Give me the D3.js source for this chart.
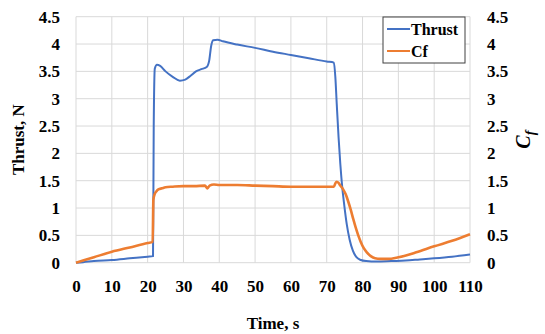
<!DOCTYPE html>
<html>
<head>
<meta charset="utf-8">
<script src="https://cdn.jsdelivr.net/npm/d3@7"></script>
<style>
  body { margin: 0; background: #fff; }
  text { font-family: "Liberation Serif", "Times New Roman", serif; font-weight: bold; fill: #000; }
</style>
</head>
<body>
<div id="chart"></div>
<script>
// thrust trace, N
let thrustTime = [0, 2, 5, 10, 15, 20, 21.5, 21.7, 22.0, 22.6, 23.5, 25, 27, 29, 30.5, 32, 33.5, 35, 36.5, 37.2, 37.7, 38.3, 39.5, 41, 45, 50, 55, 60, 65, 70, 72, 72.4, 72.8, 73.3, 73.8, 74.3, 74.9, 75.6, 76.4, 77.3, 78.3, 79.5, 81, 84, 88, 92, 96, 100, 105, 110];
let thrustValue = [0, 0.01, 0.03, 0.05, 0.08, 0.11, 0.12, 2.5, 3.55, 3.62, 3.6, 3.5, 3.4, 3.33, 3.35, 3.42, 3.5, 3.54, 3.58, 3.7, 3.95, 4.07, 4.08, 4.05, 3.99, 3.93, 3.86, 3.8, 3.74, 3.68, 3.66, 3.4, 2.9, 2.3, 1.8, 1.4, 1.05, 0.7, 0.42, 0.22, 0.1, 0.05, 0.03, 0.02, 0.03, 0.04, 0.06, 0.08, 0.11, 0.15];

// thrust coefficient Cf
let cfTime = [0, 5, 10, 15, 20, 21.4, 21.6, 22, 22.5, 23, 24, 25, 27, 30, 33, 36, 36.7, 37.3, 38.5, 40, 45, 50, 55, 60, 65, 70, 72, 72.4, 72.8, 73.3, 73.8, 74.5, 75.3, 76, 76.7, 77.4, 78.1, 78.8, 79.5, 80.3, 81.2, 82.3, 83.5, 85, 87, 90, 95, 100, 105, 110];
let cfValue = [0, 0.1, 0.2, 0.28, 0.36, 0.38, 1.15, 1.26, 1.31, 1.34, 1.36, 1.38, 1.39, 1.4, 1.4, 1.41, 1.36, 1.41, 1.43, 1.42, 1.42, 1.41, 1.4, 1.39, 1.39, 1.39, 1.39, 1.45, 1.48, 1.46, 1.41, 1.35, 1.25, 1.12, 0.97, 0.8, 0.64, 0.5, 0.38, 0.27, 0.19, 0.12, 0.08, 0.07, 0.07, 0.1, 0.19, 0.3, 0.4, 0.52];

let xTicks = [0, 10, 20, 30, 40, 50, 60, 70, 80, 90, 100, 110];
let yTicks = [0, 0.5, 1, 1.5, 2, 2.5, 3, 3.5, 4, 4.5];
let seriesNames = ["Thrust", "Cf"];
let seriesColors = ["#4472C4", "#ED7D31"];

let serif = '"Liberation Serif", "Times New Roman", serif';
let width = 545, height = 334;
let margin = {top: 16.7, right: 75, bottom: 71.3, left: 76};
let plotW = width - margin.left - margin.right;
let plotH = height - margin.top - margin.bottom;

let svg = d3.select("#chart").append("svg")
  .attr("width", width)
  .attr("height", height);

let g = svg.append("g")
  .attr("transform", "translate(" + margin.left + "," + margin.top + ")");

let x = d3.scaleLinear().domain([0, 110]).range([0, plotW]);
let yLeft = d3.scaleLinear().domain([0, 4.5]).range([plotH, 0]);
let yRight = d3.scaleLinear().domain([0, 4.5]).range([plotH, 0]);

//gridlines
g.selectAll(".vgrid")
  .data(xTicks)
  .enter()
  .append("line")
  .attr("x1", d => x(d)).attr("x2", d => x(d))
  .attr("y1", 0).attr("y2", plotH)
  .attr("stroke", "#d9d9d9")
  .attr("stroke-width", 1);

g.selectAll(".hgrid")
  .data(yTicks)
  .enter()
  .append("line")
  .attr("x1", 0).attr("x2", plotW)
  .attr("y1", d => yLeft(d)).attr("y2", d => yLeft(d))
  .attr("stroke", "#d9d9d9")
  .attr("stroke-width", 1);

// axes, labels only
let fmt = d3.format("");
let xAxis = g.append("g")
  .attr("transform", "translate(0," + plotH + ")")
  .call(d3.axisBottom(x).tickValues(xTicks).tickSize(0).tickPadding(17).tickFormat(fmt));
let leftAxis = g.append("g")
  .call(d3.axisLeft(yLeft).tickValues(yTicks).tickSize(0).tickPadding(16).tickFormat(fmt));
let rightAxis = g.append("g")
  .attr("transform", "translate(" + plotW + ",0)")
  .call(d3.axisRight(yRight).tickValues(yTicks).tickSize(0).tickPadding(17).tickFormat(fmt));

[xAxis, leftAxis, rightAxis].forEach(a => {
  a.attr("font-family", serif).attr("font-size", 17).attr("font-weight", "bold");
  a.select(".domain").remove();
  a.selectAll("text")
    .style("font-family", serif)
    .style("font-weight", "bold")
    .style("font-size", "17px")
    .attr("fill", "#000");
});

// series lines
let thrustData = thrustTime.map((t, i) => ({t: t, v: thrustValue[i]}));
let cfData = cfTime.map((t, i) => ({t: t, v: cfValue[i]}));

g.append("path")
  .datum(thrustData)
  .attr("fill", "none")
  .attr("stroke", seriesColors[0])
  .attr("stroke-width", 2)
  .attr("stroke-linejoin", "round")
  .attr("d", d3.line().x(d => x(d.t)).y(d => yLeft(d.v)).curve(d3.curveMonotoneX));

g.append("path")
  .datum(cfData)
  .attr("fill", "none")
  .attr("stroke", seriesColors[1])
  .attr("stroke-width", 2.6)
  .attr("stroke-linejoin", "round")
  .attr("d", d3.line().x(d => x(d.t)).y(d => yRight(d.v)).curve(d3.curveMonotoneX));

// axis titles
svg.append("text")
  .attr("transform", "translate(24," + (margin.top + plotH / 2) + ") rotate(-90)")
  .attr("text-anchor", "middle")
  .style("font-size", "17px")
  .text("Thrust, N");

let cfTitle = svg.append("text")
  .attr("transform", "translate(530," + (margin.top + plotH / 2) + ") rotate(-90)")
  .attr("text-anchor", "middle")
  .style("font-size", "20px")
  .style("font-style", "italic");
cfTitle.append("tspan").text("C");
cfTitle.append("tspan").attr("dy", 5).style("font-size", "14px").text("f");

svg.append("text")
  .attr("x", margin.left + plotW / 2)
  .attr("y", 329)
  .attr("text-anchor", "middle")
  .style("font-size", "17px")
  .text("Time, s");

// legend
let legend = svg.append("g").attr("transform", "translate(383,17)");
legend.append("rect")
  .attr("width", 82).attr("height", 46)
  .attr("fill", "#fff")
  .attr("stroke", "#404040")
  .attr("stroke-width", 1);

let items = legend.selectAll(".item")
  .data(seriesNames)
  .enter()
  .append("g")
  .attr("transform", (d, i) => "translate(0," + (12 + i * 22) + ")");
items.append("line")
  .attr("x1", 4).attr("x2", 27)
  .attr("stroke", (d, i) => seriesColors[i])
  .attr("stroke-width", 2);
items.append("text")
  .attr("x", 28)
  .attr("y", 5.5)
  .style("font-size", "16px")
  .text(d => d);
</script>
</body>
</html>
